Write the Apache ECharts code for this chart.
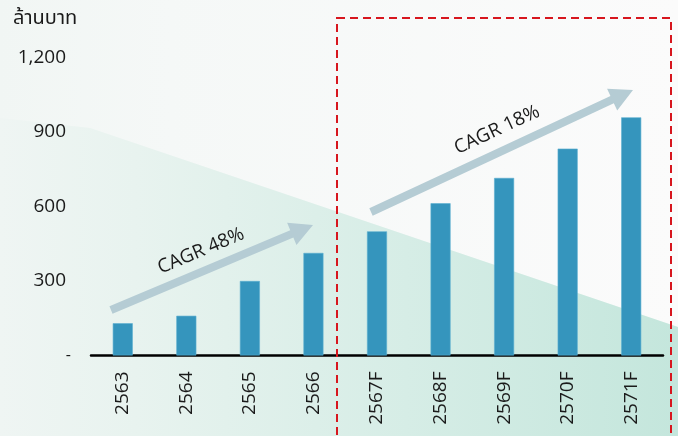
<!DOCTYPE html>
<html>
<head>
<meta charset="utf-8">
<script src="https://cdn.jsdelivr.net/npm/echarts@6/dist/echarts.min.js"></script>
<style>
  html, body { margin: 0; padding: 0; background: #f4f7f6; }
  #chart { width: 678px; height: 436px; }
</style>
</head>
<body>
<div id="chart"></div>
<script>
// Revenue (million baht), actual years followed by forecast years
const categories = ['2563', '2564', '2565', '2566', '2567F', '2568F', '2569F', '2570F', '2571F'];
const revenue = [130, 160, 300, 413, 500, 613, 715, 833, 959];
const yTicks = [0, 300, 600, 900, 1200];
const unitLabel = 'ล้านบาท';
const cagrLabels = ['CAGR 48%', 'CAGR 18%'];

const FONT = '"Open Sans", "Noto Sans", "Noto Sans Thai", sans-serif';
const arrowColor = '#b5ccd4';

function arrow(x1, y1, x2, y2, shaftW, headLen, headW) {
  const dx = x2 - x1, dy = y2 - y1;
  const len = Math.hypot(dx, dy);
  const ux = dx / len, uy = dy / len;
  const nx = -uy, ny = ux;
  const bx = x2 - ux * headLen, by = y2 - uy * headLen;
  const s = shaftW / 2, h = headW / 2;
  return [
    [x1 + nx * s, y1 + ny * s],
    [bx + nx * s, by + ny * s],
    [bx + nx * h, by + ny * h],
    [x2, y2],
    [bx - nx * h, by - ny * h],
    [bx - nx * s, by - ny * s],
    [x1 - nx * s, y1 - ny * s]
  ];
}

const chart = echarts.init(document.getElementById('chart'));
chart.setOption({
  backgroundColor: '#f1f6f4',
  animation: false,
  grid: { left: 91, right: 15, top: 57.5, bottom: 80.5 },
  xAxis: {
    type: 'category',
    data: categories,
    axisLine: { lineStyle: { color: '#000', width: 2.5 } },
    axisTick: { show: false },
    axisLabel: {
      rotate: 90, margin: 16, color: '#1a1a1a', fontSize: 19, fontFamily: FONT
    }
  },
  yAxis: {
    type: 'value',
    min: yTicks[0], max: yTicks[yTicks.length - 1], interval: 300,
    axisLine: { show: false },
    axisTick: { show: false },
    splitLine: { show: false },
    axisLabel: {
      margin: 20, color: '#1a1a1a', fontSize: 19, fontFamily: FONT,
      formatter: v => v === 0 ? '{d|-}' : '{n|' + v.toLocaleString('en-US') + '}',
      rich: {
        n: { fontSize: 19, fontFamily: FONT, color: '#1a1a1a', padding: [0, 5, 0, 0] },
        d: { fontSize: 16, fontFamily: FONT, color: '#1a1a1a', padding: [0, 0, 0, 0] }
      }
    }
  },
  series: [{
    type: 'bar',
    data: revenue,
    barWidth: 20,
    itemStyle: { color: '#3595bd', borderColor: '#5aaed0', borderWidth: 0.6 },
    z: 5
  }],
  graphic: [
    // light upper area of the background
    {
      type: 'polygon', z: -11, silent: true,
      shape: { points: [[0, 0], [678, 0], [678, 327], [90, 128], [0, 118]] },
      style: {
        fill: new echarts.graphic.LinearGradient(0, 0, 1, 0, [
          { offset: 0, color: '#f1f6f4' },
          { offset: 0.25, color: '#f5f8f7' },
          { offset: 1, color: '#fbfbfb' }
        ])
      }
    },
    // soft mint diagonal band below it
    {
      type: 'polygon', z: -10, silent: true,
      shape: { points: [[0, 118], [90, 128], [678, 327], [678, 436], [0, 436]] },
      style: {
        fill: new echarts.graphic.LinearGradient(0, 0, 1, 0, [
          { offset: 0, color: '#eff5f3' },
          { offset: 0.2, color: '#e8f3ef' },
          { offset: 0.6, color: '#d6ede6' },
          { offset: 1, color: '#c4e6dc' }
        ])
      }
    },
    // unit label
    {
      type: 'text', left: 13, top: 8,
      style: { text: unitLabel, fontSize: 20, fontFamily: FONT, fill: '#1a1a1a' }
    },
    // forecast period frame
    {
      type: 'rect', z: 20, silent: true,
      shape: { x: 337, y: 18, width: 334, height: 440 },
      style: { fill: 'none', stroke: '#d7161e', lineWidth: 2, lineDash: [8, 5] }
    },
    // growth arrows
    {
      type: 'polygon', z: 10, silent: true,
      shape: { points: arrow(111, 310, 313, 225, 8, 23, 24) },
      style: { fill: arrowColor }
    },
    {
      type: 'polygon', z: 10, silent: true,
      shape: { points: arrow(371, 212, 633, 90, 8, 23, 24) },
      style: { fill: arrowColor }
    },
    {
      type: 'text', z: 11, x: 201, y: 251, rotation: Math.atan2(85, 202),
      style: { text: cagrLabels[0], fontSize: 19, fontFamily: FONT, fill: '#1a1a1a', align: 'center', verticalAlign: 'middle' }
    },
    {
      type: 'text', z: 11, x: 497, y: 130, rotation: Math.atan2(122, 262),
      style: { text: cagrLabels[1], fontSize: 19, fontFamily: FONT, fill: '#1a1a1a', align: 'center', verticalAlign: 'middle' }
    }
  ]
});
</script>
</body>
</html>
